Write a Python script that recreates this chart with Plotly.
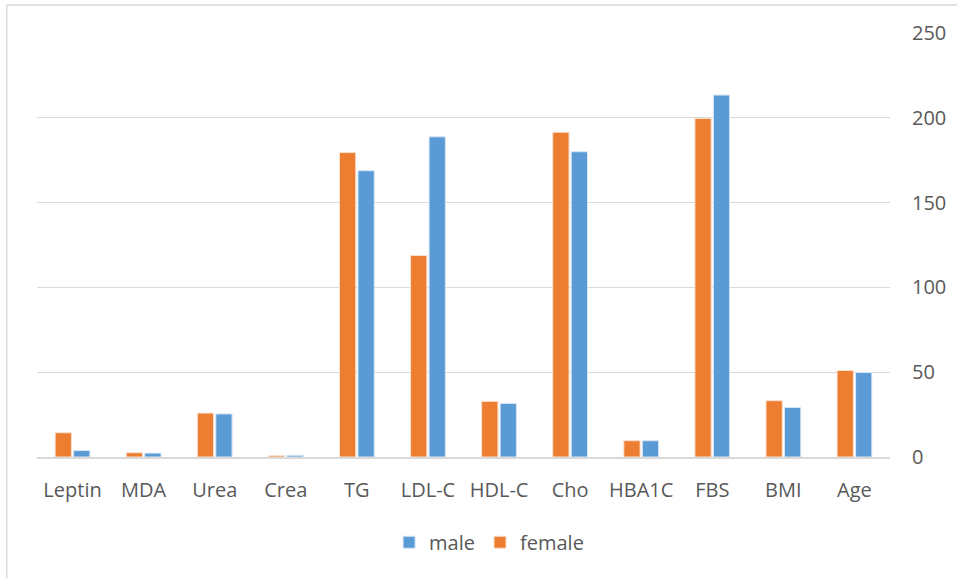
import plotly.graph_objects as go

categories = ["Leptin", "MDA", "Urea", "Crea", "TG", "LDL-C", "HDL-C",
              "Cho", "HBA1C", "FBS", "BMI", "Age"]
female = [14.3, 2.5, 25.9, 0.8, 179.5, 118.8, 32.8, 191.5, 9.6, 199.6, 33.2, 51.0]
male = [3.8, 2.3, 25.4, 1.0, 168.8, 188.8, 31.6, 180.0, 9.6, 213.4, 29.2, 49.8]

FONT = "Open Sans"
GRAY_TEXT = "#595959"
GRID = "#D9D9D9"

fig = go.Figure()
fig.add_trace(go.Bar(name="female", x=categories, y=female,
                     marker=dict(color="#ED7D31", line=dict(color="#FBE0CF", width=1))))
fig.add_trace(go.Bar(name="male", x=categories, y=male,
                     marker=dict(color="#5B9BD5", line=dict(color="#D6E6F5", width=1))))

fig.update_layout(
    width=957, height=578,
    margin=dict(l=37, r=67, t=33, b=121),
    paper_bgcolor="white", plot_bgcolor="white",
    barmode="group", bargap=0.48, bargroupgap=0.12,
    font=dict(family=FONT, size=20, color=GRAY_TEXT),
    showlegend=True,
    legend=dict(orientation="h", traceorder="reversed",
                x=0.53, xanchor="center", y=-0.155, yanchor="top",
                font=dict(family=FONT, size=20, color=GRAY_TEXT),
                itemwidth=30),
    xaxis=dict(showgrid=False, showline=True, linecolor=GRID, linewidth=2,
               ticks="", ticklabelstandoff=14,
               tickfont=dict(family=FONT, size=20, color=GRAY_TEXT)),
    yaxis=dict(side="right", range=[0, 250], dtick=50, showgrid=True,
               gridcolor=GRID, gridwidth=1, zeroline=False, showline=False,
               ticks="", ticklabelstandoff=21,
               tickfont=dict(family=FONT, size=20, color=GRAY_TEXT)),
    shapes=[
        dict(type="line", xref="paper", yref="paper",
             x0=-0.0355, x1=1.1, y0=1.066, y1=1.066,
             line=dict(color=GRID, width=1.5)),
        dict(type="line", xref="paper", yref="paper",
             x0=-0.0355, x1=-0.0355, y0=1.066, y1=-0.3,
             line=dict(color=GRID, width=1.5)),
    ],
)

fig.write_html("out.html")
